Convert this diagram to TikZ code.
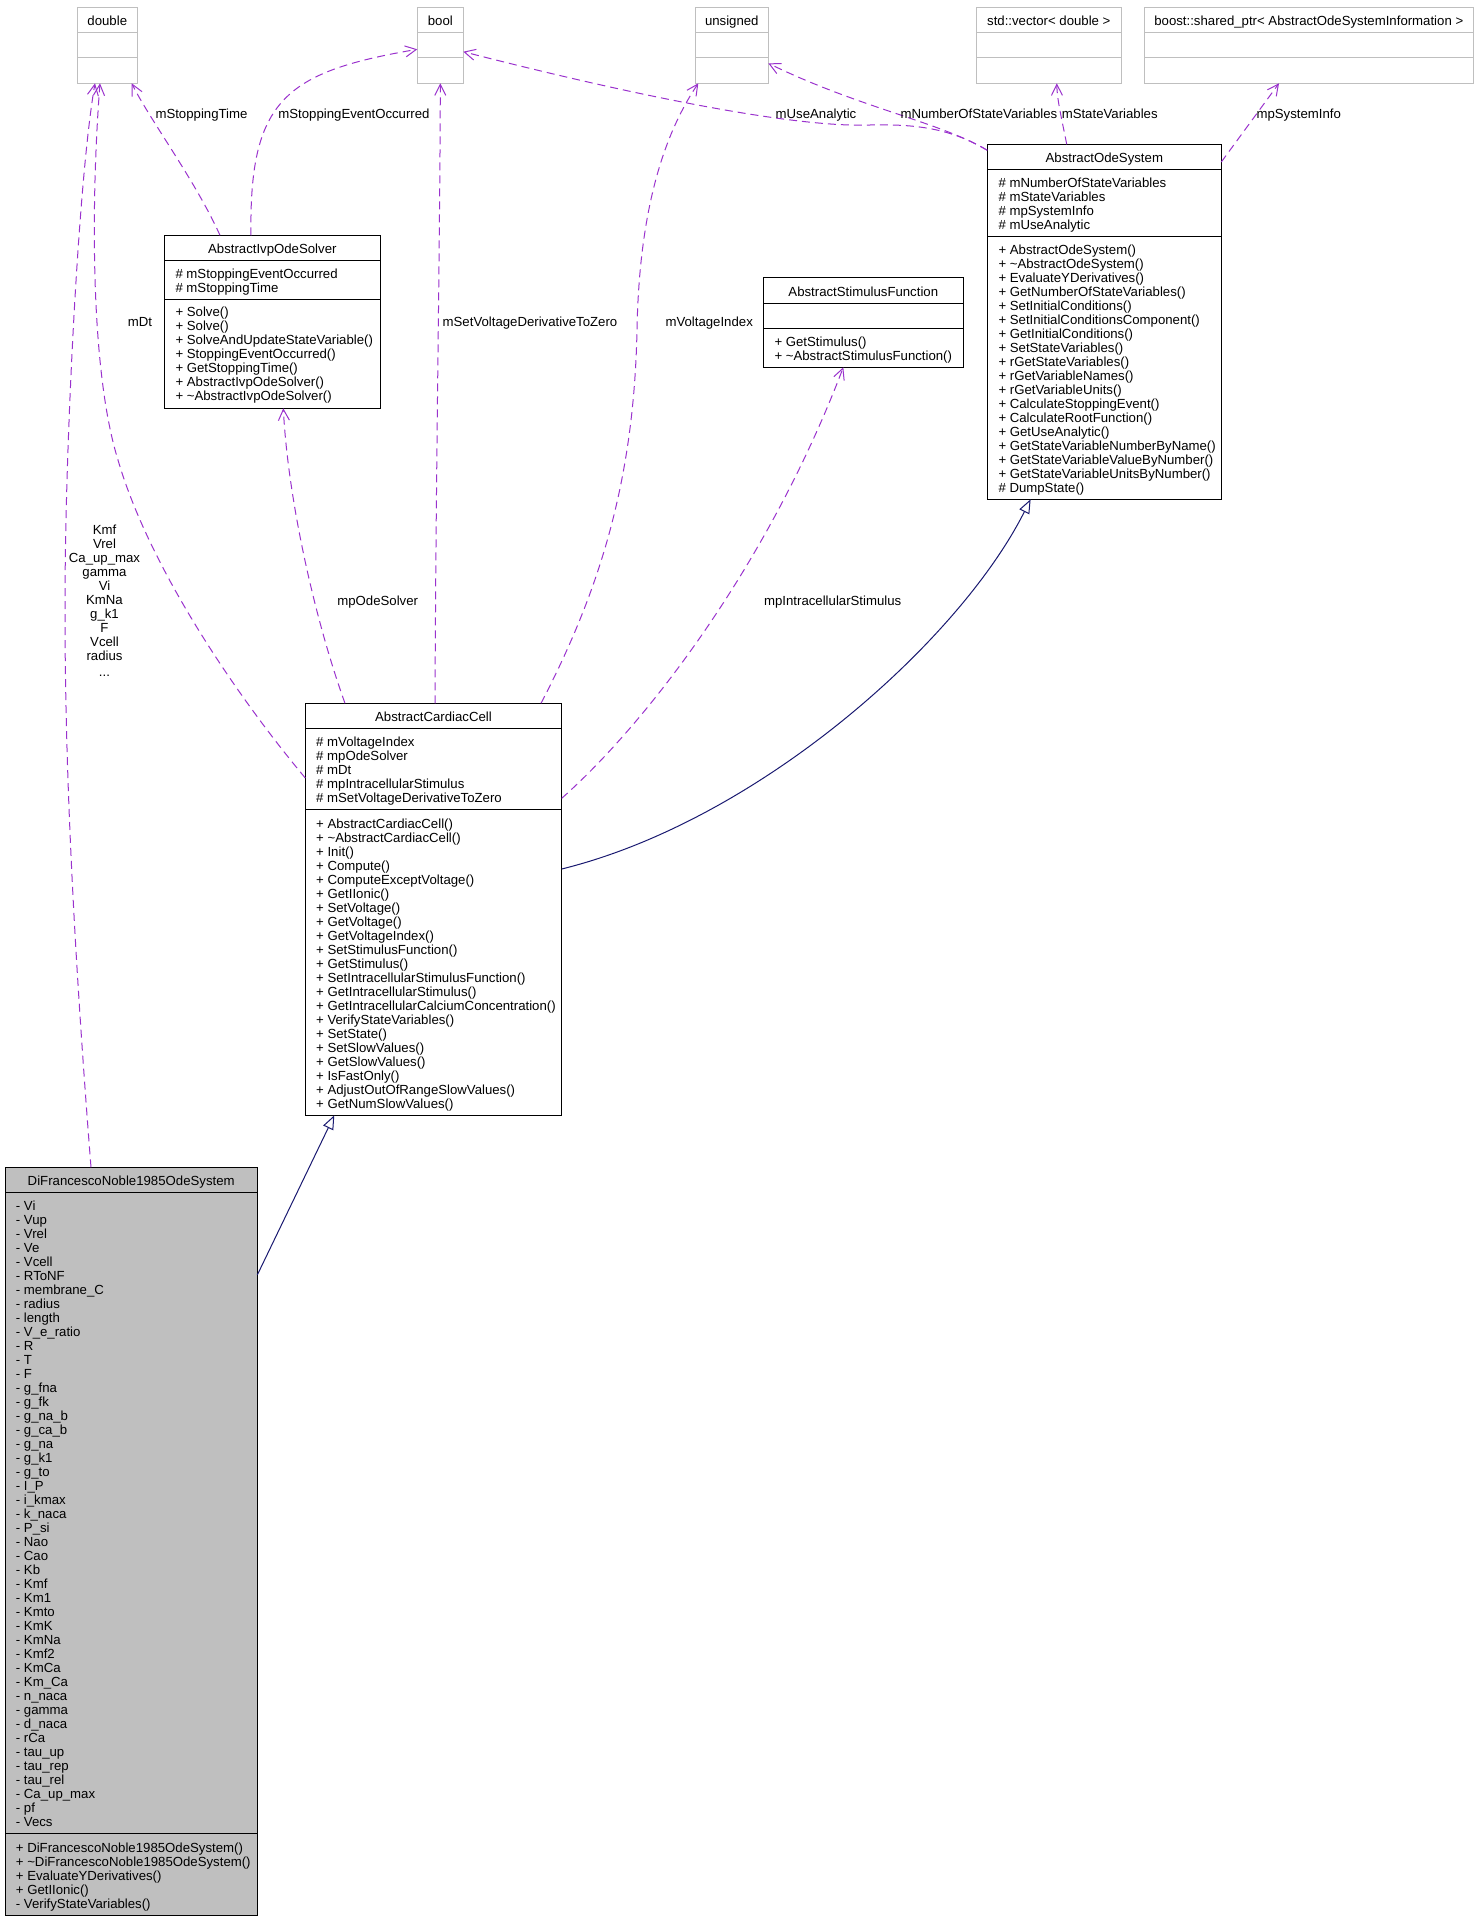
\documentclass[tikz,border=0pt]{standalone}
\usepackage{fontspec}
\setmainfont{Liberation Sans}
\usetikzlibrary{arrows.meta,calc,fit}
\definecolor{usecol}{HTML}{9A32CD}
\definecolor{inhcol}{HTML}{191970}
\definecolor{boxgray}{HTML}{BFBFBF}
\newcommand\dfs{\fontsize{13.2}{14}\selectfont}
\def\bo{4.6}
\tikzset{
  umlbox/.style={draw=black, line width=1pt, inner sep=0pt, outer sep=0pt, fill=white},
  typebox/.style={draw=boxgray, line width=1pt, inner sep=0pt, outer sep=0pt, fill=white},
  txt/.style={font=\dfs, inner sep=0pt, anchor=base west},
  ttl/.style={font=\dfs, inner sep=0pt, anchor=base},
  lbl/.style={font=\dfs, inner sep=0pt, anchor=base},
  usage/.style={draw=usecol, line width=1pt, dash pattern=on 8pt off 5pt,
    -{Straight Barb[length=11pt,width=11pt,line width=1pt]}},
  inherit/.style={draw=inhcol, line width=1pt,
    -{Triangle[open,length=14pt,width=11pt,fill=white,line width=1pt]}},
  divider/.style={draw=black, line width=1pt},
  tdivider/.style={draw=boxgray, line width=1pt}
}
\begin{document}
\begin{tikzpicture}[x=1pt,y=-1pt]
\useasboundingbox (0,0) rectangle (1477,1920);

% ---------- plain type boxes ----------
\node[typebox, fit={(77.3,7.3)(137.3,83.3)}] (dbl) {};
\draw[tdivider] (77.3,32.3) -- (137.3,32.3) (77.3,57.3) -- (137.3,57.3);
\node[ttl] (dbl-t) at (107.3,{20.7+\bo}) {double};

\node[typebox, fit={(417.3,7.3)(463.3,83.3)}] (bl) {};
\draw[tdivider] (417.3,32.3) -- (463.3,32.3) (417.3,57.3) -- (463.3,57.3);
\node[ttl] (bl-t) at (440.3,{20.7+\bo}) {bool};

\node[typebox, fit={(695.3,7.3)(768.3,83.3)}] (uns) {};
\draw[tdivider] (695.3,32.3) -- (768.3,32.3) (695.3,57.3) -- (768.3,57.3);
\node[ttl] (uns-t) at (731.8,{20.7+\bo}) {unsigned};

\node[typebox, fit={(976.3,7.3)(1121.3,83.3)}] (vec) {};
\draw[tdivider] (976.3,32.3) -- (1121.3,32.3) (976.3,57.3) -- (1121.3,57.3);
\node[ttl] (vec-t) at (1048.8,{20.7+\bo}) {std::vector< double >};

\node[typebox, fit={(1144.3,7.3)(1473.3,83.3)}] (bst) {};
\draw[tdivider] (1144.3,32.3) -- (1473.3,32.3) (1144.3,57.3) -- (1473.3,57.3);
\node[ttl] (bst-t) at (1308.8,{20.7+\bo}) {boost::shared\_ptr< AbstractOdeSystemInformation >};

% ---------- AbstractOdeSystem ----------
\node[umlbox, fit={(987.3,144.3)(1221.3,499.3)}] (aos) {};
\draw[divider] (987.3,169.3) -- (1221.3,169.3) (987.3,236.3) -- (1221.3,236.3);
\node[ttl] (aos-t) at (1104.3,{157.7+\bo}) {AbstractOdeSystem};
\foreach \t [count=\i from 0] in {\# mNumberOfStateVariables, \# mStateVariables, \# mpSystemInfo, \# mUseAnalytic}
  \node[txt] (aos-a\i) at (998.3,{182.7+14*\i+\bo}) {\t};
\foreach \t [count=\i from 0] in {+ AbstractOdeSystem(), + \textasciitilde AbstractOdeSystem(), + EvaluateYDerivatives(), + GetNumberOfStateVariables(), + SetInitialConditions(), + SetInitialConditionsComponent(), + GetInitialConditions(), + SetStateVariables(), + rGetStateVariables(), + rGetVariableNames(), + rGetVariableUnits(), + CalculateStoppingEvent(), + CalculateRootFunction(), + GetUseAnalytic(), + GetStateVariableNumberByName(), + GetStateVariableValueByNumber(), + GetStateVariableUnitsByNumber(), \# DumpState()}
  \node[txt] (aos-m\i) at (998.3,{249.7+14*\i+\bo}) {\t};

% ---------- AbstractStimulusFunction ----------
\node[umlbox, fit={(763.3,277.3)(963.3,367.3)}] (asf) {};
\draw[divider] (763.3,303.3) -- (963.3,303.3) (763.3,328.3) -- (963.3,328.3);
\node[ttl] (asf-t) at (863.3,{291.7+\bo}) {AbstractStimulusFunction};
\node[txt] (asf-m0) at (774.3,{341.7+\bo}) {+ GetStimulus()};
\node[txt] (asf-m1) at (774.3,{355.7+\bo}) {+ \textasciitilde AbstractStimulusFunction()};

% ---------- AbstractIvpOdeSolver ----------
\node[umlbox, fit={(164.3,235.3)(380.3,408.3)}] (ivp) {};
\draw[divider] (164.3,260.3) -- (380.3,260.3) (164.3,299.3) -- (380.3,299.3);
\node[ttl] (ivp-t) at (272.3,{248.7+\bo}) {AbstractIvpOdeSolver};
\node[txt] (ivp-a0) at (175.3,{273.7+\bo}) {\# mStoppingEventOccurred};
\node[txt] (ivp-a1) at (175.3,{287.7+\bo}) {\# mStoppingTime};
\foreach \t [count=\i from 0] in {+ Solve(), + Solve(), + SolveAndUpdateStateVariable(), + StoppingEventOccurred(), + GetStoppingTime(), + AbstractIvpOdeSolver(), + \textasciitilde AbstractIvpOdeSolver()}
  \node[txt] (ivp-m\i) at (175.3,{312+14*\i+\bo}) {\t};

% ---------- AbstractCardiacCell ----------
\node[umlbox, fit={(305.3,703.3)(561.7,1115.3)}] (acc) {};
\draw[divider] (305.3,728.3) -- (561.7,728.3) (305.3,809.3) -- (561.7,809.3);
\node[ttl] (acc-t) at (433.5,{716.7+\bo}) {AbstractCardiacCell};
\foreach \t [count=\i from 0] in {\# mVoltageIndex, \# mpOdeSolver, \# mDt, \# mpIntracellularStimulus, \# mSetVoltageDerivativeToZero}
  \node[txt] (acc-a\i) at (316,{741.7+14*\i+\bo}) {\t};
\foreach \t [count=\i from 0] in {+ AbstractCardiacCell(), + \textasciitilde AbstractCardiacCell(), + Init(), + Compute(), + ComputeExceptVoltage(), + GetIIonic(), + SetVoltage(), + GetVoltage(), + GetVoltageIndex(), + SetStimulusFunction(), + GetStimulus(), + SetIntracellularStimulusFunction(), + GetIntracellularStimulus(), + GetIntracellularCalciumConcentration(), + VerifyStateVariables(), + SetState(), + SetSlowValues(), + GetSlowValues(), + IsFastOnly(), + AdjustOutOfRangeSlowValues(), + GetNumSlowValues()}
  \node[txt] (acc-m\i) at (316,{823.7+14*\i+\bo}) {\t};

% ---------- DiFrancescoNoble1985OdeSystem ----------
\node[umlbox, fill=boxgray, fit={(5,1167.3)(257.3,1915.3)}] (dfn) {};
\draw[divider] (5,1192.3) -- (257.3,1192.3) (5,1833.3) -- (257.3,1833.3);
\node[ttl] (dfn-t) at (131.2,{1180.7+\bo}) {DiFrancescoNoble1985OdeSystem};
\foreach \t [count=\i from 0] in {- Vi, - Vup, - Vrel, - Ve, - Vcell, - RToNF, - membrane\_C, - radius, - length, - V\_e\_ratio, - R, - T, - F, - g\_fna, - g\_fk, - g\_na\_b, - g\_ca\_b, - g\_na, - g\_k1, - g\_to, - I\_P, - i\_kmax, - k\_naca, - P\_si, - Nao, - Cao, - Kb, - Kmf, - Km1, - Kmto, - KmK, - KmNa, - Kmf2, - KmCa, - Km\_Ca, - n\_naca, - gamma, - d\_naca, - rCa, - tau\_up, - tau\_rep, - tau\_rel, - Ca\_up\_max, - pf, - Vecs}
  \node[txt] (dfn-a\i) at (15.7,{1205.7+14*\i+\bo}) {\t};
\foreach \t [count=\i from 0] in {+ DiFrancescoNoble1985OdeSystem(), + \textasciitilde DiFrancescoNoble1985OdeSystem(), + EvaluateYDerivatives(), + GetIIonic(), - VerifyStateVariables()}
  \node[txt] (dfn-m\i) at (15.7,{1847.7+14*\i+\bo}) {\t};

% ---------- usage connectors ----------
\draw[usage] ($(ivp.north west)+(55.7,0)$) .. controls (195,180) and (150,120) .. ($(dbl.south west)+(54.4,0)$);
\draw[usage] ($(ivp.north west)+(86.7,0)$) .. controls (249,100) and (285,72) .. ($(bl.west)+(0,4)$);
\draw[usage] ($(acc.north west)+(129.7,0)$) .. controls (436,450) and (440,250) .. (bl.south);
\draw[usage] ($(acc.north east)+(-20.7,0)$) .. controls (600,590) and (634,480) .. (637,330)
   .. controls (639,220) and (660,140) .. ($(uns.south west)+(3,0)$);
\draw[usage] ($(acc.north east)+(0,95)$) .. controls (650,720) and (770,560) .. ($(asf.south west)+(80,0)$);
\draw[usage] ($(acc.north west)+(39.7,0)$) .. controls (315,620) and (288,500) .. ($(ivp.south west)+(119,0)$);
\draw[usage] ($(acc.north west)+(0,74.7)$) .. controls (240,700) and (150,570) .. (118,460)
   .. controls (90,370) and (91,200) .. ($(dbl.south)+(-7.3,0)$);
\draw[usage] ($(dfn.north west)+(86,0)$) .. controls (70,900) and (62,700) .. (66,520)
   .. controls (69,380) and (80,170) .. ($(dbl.south)+(-12.3,0)$);
\draw[usage] ($(aos.north west)+(0,6)$) .. controls (950,128) and (915,124) .. (870,125)
   .. controls (790,128) and (620,92) .. ($(bl.east)+(0,6.4)$);
\draw[usage] ($(aos.north west)+(0,6)$) .. controls (940,122) and (860,108) .. ($(uns.east)+(0,18)$);
\draw[usage] ($(aos.north west)+(79.4,0)$) .. controls (1062,120) and (1057,100) .. ($(vec.south)+(8,0)$);
\draw[usage] ($(aos.north east)+(0,17.7)$) -- ($(bst.south west)+(134.7,0)$);

% ---------- inheritance connectors ----------
\draw[inherit] ($(acc.north east)+(0,165.7)$) .. controls (760,820) and (960,640) .. ($(aos.south west)+(43.3,0)$);
\draw[inherit] ($(dfn.north east)+(0,107.7)$) -- ($(acc.south west)+(29,0)$);

% ---------- connector labels ----------
\node[lbl] (l-stoptime) at (201.5,{113.7+\bo}) {mStoppingTime};
\node[lbl] (l-stopevent) at (354,{113.7+\bo}) {mStoppingEventOccurred};
\node[lbl] (l-useanalytic) at (816,{113.7+\bo}) {mUseAnalytic};
\node[lbl] (l-numstate) at (978.9,{113.7+\bo}) {mNumberOfStateVariables};
\node[lbl] (l-statevars) at (1109.7,{113.7+\bo}) {mStateVariables};
\node[lbl] (l-sysinfo) at (1298.7,{113.7+\bo}) {mpSystemInfo};
\node[lbl] (l-dt) at (140,{322+\bo}) {mDt};
\node[lbl] (l-setvolt) at (530,{322+\bo}) {mSetVoltageDerivativeToZero};
\node[lbl] (l-voltidx) at (709.2,{322+\bo}) {mVoltageIndex};
\node[lbl] (l-odesolver) at (377.7,{600.7+\bo}) {mpOdeSolver};
\node[lbl] (l-intra) at (832.7,{600.7+\bo}) {mpIntracellularStimulus};
\foreach \t [count=\i from 0] in {Kmf, Vrel, Ca\_up\_max, gamma, Vi, KmNa, g\_k1, F, Vcell, radius}
  \node[lbl] (l-dfn\i) at (104.5,{530.3+14*\i+\bo}) {\t};
\node[lbl] (l-dfndots) at (104.5,{671.7+\bo}) {...};
\end{tikzpicture}
\end{document}
